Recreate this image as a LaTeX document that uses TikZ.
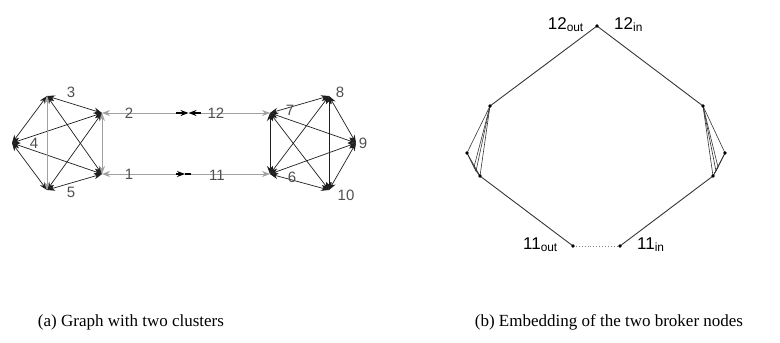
\documentclass[tikz,border=0pt]{standalone}
\usepackage{fontspec}
\setmainfont{Liberation Serif}
\setsansfont{Liberation Sans}
\usetikzlibrary{arrows.meta}
\definecolor{clusteredge}{RGB}{30,30,30}
\definecolor{bridgegray}{RGB}{160,160,160}
\definecolor{labelgray}{RGB}{80,80,80}
\definecolor{embedline}{RGB}{55,55,55}

\begin{document}
\begin{tikzpicture}[x=1pt,y=-1pt,font=\sffamily,>={Stealth[length=8pt,width=6pt]}]
    \useasboundingbox (0,0) rectangle (780,343);
    % (a) graph with two clusters
    \foreach \n/\x/\y in {1/102/174,2/102/113,3/47/96,4/12/143,5/47/190,
                          6/270/174,7/270/113,8/329/96,9/356/143,10/329/190}
      \coordinate (a\n) at (\x,\y);
    \foreach \i/\j in {3/2,3/1,3/4,4/2,4/1,4/5,5/2,5/1,
                       7/8,7/9,7/10,7/6,6/8,6/9,6/10,8/9,8/10,9/10}
      \draw[<->,clusteredge,line width=.7pt] (a\i) -- (a\j);
    \foreach \i/\j in {3/5,2/1}
      \draw[<->,bridgegray,line width=.9pt] (a\i) -- (a\j);
    % broker nodes on the bridges
    \coordinate (b12l) at (176,113);
    \coordinate (b12m) at (188.5,113);
    \coordinate (b12r) at (201,113);
    \coordinate (b11l) at (176,174);
    \coordinate (b11m) at (185,174);
    \coordinate (b11r) at (191,174);
    \draw[->,bridgegray,line width=.9pt] (b12l) -- (a2);
    \draw[->,bridgegray,line width=.9pt] (b12r) -- (a7);
    \draw[->,bridgegray,line width=.9pt] (b11l) -- (a1);
    \draw[->,bridgegray,line width=.9pt] (b11r) -- (a6);
    \draw[->,black,line width=1.6pt] (b12l) -- (b12m);
    \draw[->,black,line width=1.6pt] (b12r) -- (b12m);
    \draw[black,line width=1.6pt] (b11m) -- (b11r);
    \draw[->,black,line width=1.6pt] (b11l) -- (b11m);
    \foreach \n/\x/\y in {1/129/174,2/129/113,3/71/92,4/34/143,5/71/192,
                          6/292/177,7/290/110,8/340/92,9/363/143,10/346/195,
                          12/216/113,11/217/175}
      \node[text=labelgray,font=\sffamily\fontsize{15}{17}\selectfont,inner sep=0pt]
        (la\n) at (\x,\y) {\n};
    % (b) embedding of the two broker nodes
    \foreach \n/\x/\y in {2/490/106,4/467/153,3/474/167,5/476/171,1/480/176}
      \coordinate (l\n) at (\x,\y);
    \foreach \n/\x/\y in {7/703/106,9/725/153,8/718/167,10/716/171,6/713/176}
      \coordinate (r\n) at (\x,\y);
    \coordinate (t12) at (597,26);
    \coordinate (o11) at (573,246);
    \coordinate (i11) at (620,246);
    \foreach \i/\j in {2/4,2/3,2/5,2/1,4/3,4/5,4/1,3/5,3/1,5/1}
      \draw[embedline,line width=.6pt] (l\i) -- (l\j);
    \foreach \i/\j in {7/9,7/8,7/10,7/6,9/8,9/10,9/6,8/10,8/6,10/6}
      \draw[embedline,line width=.6pt] (r\i) -- (r\j);
    \draw[embedline,line width=.9pt] (l2) -- (t12) -- (r7);
    \draw[embedline,line width=.9pt] (l1) -- (o11);
    \draw[embedline,line width=.9pt] (i11) -- (r6);
    \draw[gray,line width=.9pt,dotted] (o11) -- (i11);
    \foreach \p in {t12,o11,i11,l2,l4,l1,r7,r9,r6}
      \fill (\p) circle (1.8pt);
    \begin{scope}[font=\sffamily\fontsize{17}{20}\selectfont,inner sep=0pt]
      \node[anchor=base east] (lout12) at (584,29) {12\textsubscript{out}};
      \node[anchor=base west] (lin12) at (614,29) {12\textsubscript{in}};
      \node[anchor=base east] (lout11) at (558,249) {11\textsubscript{out}};
      \node[anchor=base west] (lin11) at (637,249) {11\textsubscript{in}};
    \end{scope}
    % captions
    \node[anchor=base,font=\rmfamily\fontsize{17}{20}\selectfont] (capa) at (131,326)
      {(a) Graph with two clusters};
    \node[anchor=base,font=\rmfamily\fontsize{17}{20}\selectfont] (capb) at (609,326)
      {(b) Embedding of the two broker nodes};
\end{tikzpicture}
\end{document}
